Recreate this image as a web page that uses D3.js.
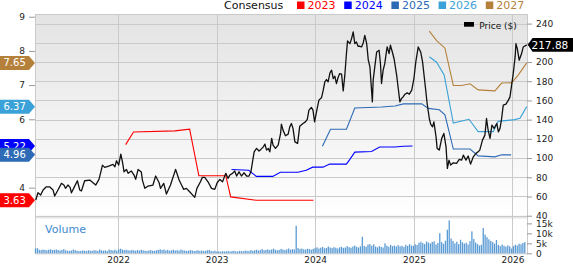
<!DOCTYPE html>
<html>
<head>
<meta charset="utf-8">
<script src="https://cdn.jsdelivr.net/npm/d3@7"></script>
<style>
  body { margin: 0; background: #fff; }
  svg { display: block; font-family: "DejaVu Sans", sans-serif; }
</style>
</head>
<body>
<svg id="chart" width="573" height="264"></svg>
<script>
// closing price ($)
const price = [
  ["2021-03-02",56.3],["2021-03-10",63.9],["2021-03-20",61.5],["2021-03-29",66.7],["2021-04-10",70.1],["2021-04-22",70.1],
  ["2021-05-05",66.7],["2021-05-11",60.5],["2021-05-23",66.7],["2021-06-05",73.7],["2021-06-14",71.9],["2021-06-20",68.5],
  ["2021-06-29",71.9],["2021-07-07",69.5],["2021-07-12",63.9],["2021-07-22",69.5],["2021-08-03",76.4],["2021-08-12",66.7],
  ["2021-08-18",65.7],["2021-08-30",76.4],["2021-09-18",77.1],["2021-09-30",74.3],["2021-10-10",71.9],["2021-10-22",77.8],
  ["2021-10-29",85.7],["2021-11-04",92.7],["2021-11-12",90.3],["2021-11-27",91.7],["2021-12-13",93.4],["2021-12-20",90.9],
  ["2021-12-26",97.2],["2022-01-03",92.7],["2022-01-11",104.1],["2022-01-17",96.1],["2022-01-23",85.7],["2022-02-01",88.2],
  ["2022-02-07",84.1],["2022-02-19",86.5],["2022-03-01",82.3],["2022-03-07",77.8],["2022-03-16",88.2],["2022-03-28",85.4],
  ["2022-04-01",77.1],["2022-04-10",68.5],["2022-04-22",70.9],["2022-05-10",71.9],["2022-05-20",81.3],["2022-06-02",74.3],
  ["2022-06-07",68.5],["2022-06-19",73.7],["2022-06-29",62.6],["2022-07-14",71.9],["2022-08-02",88.2],["2022-08-15",77.1],
  ["2022-08-24",71.9],["2022-09-01",67.4],["2022-09-11",68.5],["2022-09-23",64.9],["2022-10-12",59.1],["2022-10-20",68.5],
  ["2022-11-02",75.3],["2022-11-09",79.9],["2022-11-18",79.9],["2022-11-30",75.3],["2022-12-13",68.5],["2022-12-25",67.4],
  ["2023-01-03",74.3],["2023-01-13",77.8],["2023-01-23",75.3],["2023-01-29",79.9],["2023-02-04",84.1],["2023-02-12",78.9],
  ["2023-02-19",82.3],["2023-03-01",84.1],["2023-03-09",86.5],["2023-03-16",81.3],["2023-03-25",85.7],["2023-04-03",81.3],
  ["2023-04-12",84.7],["2023-04-22",81.3],["2023-05-01",81.3],["2023-05-08",85.7],["2023-05-20",106.5],["2023-05-29",110.1],
  ["2023-06-07",107.3],["2023-06-14",109.0],["2023-06-23",111.7],["2023-06-29",114.5],["2023-07-05",108.3],["2023-07-11",110.1],
  ["2023-07-17",106.5],["2023-07-24",120.5],["2023-07-29",113.5],["2023-08-07",110.1],["2023-08-17",113.5],["2023-08-26",125.7],
  ["2023-08-29",135.3],["2023-09-04",129.1],["2023-09-13",123.2],["2023-09-23",124.9],["2023-09-29",132.5],["2023-10-05",136.0],
  ["2023-10-11",130.9],["2023-10-18",116.9],["2023-10-28",115.3],["2023-11-05",133.2],["2023-11-17",136.0],["2023-11-26",137.7],
  ["2023-12-03",140.2],["2023-12-09",149.9],["2023-12-18",152.7],["2023-12-24",149.9],["2023-12-30",137.7],["2024-01-06",148.1],
  ["2024-01-15",160.3],["2024-01-25",163.1],["2024-01-31",170.7],["2024-02-06",179.3],["2024-02-12",181.8],["2024-02-18",179.3],
  ["2024-02-25",188.7],["2024-03-02",191.5],["2024-03-08",182.8],["2024-03-14",185.2],["2024-03-20",177.6],["2024-03-26",183.9],
  ["2024-04-01",188.0],["2024-04-08",187.3],["2024-04-14",169.9],["2024-04-20",186.3],["2024-04-26",208.8],["2024-04-30",221.9],
  ["2024-05-09",219.2],["2024-05-15",224.4],["2024-05-21",231.3],["2024-05-27",219.2],["2024-06-02",220.9],["2024-06-08",216.4],
  ["2024-06-14",216.4],["2024-06-21",215.7],["2024-06-27",219.8],["2024-07-03",227.8],["2024-07-10",219.2],["2024-07-16",201.9],
  ["2024-07-22",194.9],["2024-07-31",158.5],["2024-08-03",181.1],["2024-08-09",194.9],["2024-08-16",210.5],["2024-08-25",212.2],
  ["2024-08-30",198.4],["2024-09-03",177.6],["2024-09-09",191.5],["2024-09-15",198.4],["2024-09-21",210.5],["2024-09-24",215.7],
  ["2024-10-01",208.8],["2024-10-06",217.5],["2024-10-14",209.4],["2024-10-20",202.6],["2024-10-29",186.3],["2024-11-04",172.4],
  ["2024-11-10",158.5],["2024-11-16",162.0],["2024-11-22",163.7],["2024-11-29",166.5],["2024-12-07",167.9],["2024-12-15",166.5],
  ["2024-12-24",170.7],["2025-01-01",182.8],["2025-01-08",200.1],["2025-01-17",215.7],["2025-01-26",210.5],["2025-02-02",200.1],
  ["2025-02-11",177.6],["2025-02-19",156.8],["2025-02-27",141.2],["2025-03-04",135.3],["2025-03-11",132.5],["2025-03-16",137.7],
  ["2025-03-24",122.1],["2025-03-28",110.1],["2025-04-05",108.3],["2025-04-14",120.5],["2025-04-22",125.7],["2025-04-30",111.7],
  ["2025-05-05",89.3],["2025-05-11",97.9],["2025-05-17",92.7],["2025-05-27",95.1],["2025-06-08",94.5],["2025-06-18",98.6],
  ["2025-06-27",97.9],["2025-07-03",103.1],["2025-07-13",97.9],["2025-07-21",102.1],["2025-07-30",93.7],["2025-08-09",101.3],
  ["2025-08-19",104.9],["2025-08-27",106.5],["2025-09-02",108.3],["2025-09-12",118.7],["2025-09-21",123.9],["2025-09-27",141.2],
  ["2025-10-03",129.1],["2025-10-10",120.5],["2025-10-17",134.3],["2025-10-25",130.9],["2025-11-04",136.0],["2025-11-10",127.3],
  ["2025-11-16",130.9],["2025-11-22",141.2],["2025-11-28",155.1],["2025-12-08",156.1],["2025-12-17",160.3],["2025-12-23",163.7],
  ["2025-12-29",175.9],["2026-01-04",188.0],["2026-01-11",205.3],["2026-01-14",219.2],["2026-01-19",214.0],["2026-01-26",201.9],
  ["2026-02-04",208.8],["2026-02-10",215.7],["2026-02-23",217.88]
];

// consensus EPS estimates per fiscal year
const eps2023 = [["2022-01-29",5.26],["2022-02-27",5.63],["2022-07-30",5.66],["2022-09-23",5.71],["2022-10-27",4.35],
  ["2023-02-04",4.35],["2023-02-22",3.73],["2023-05-28",3.63],["2023-12-26",3.63]];
const eps2024 = [["2023-02-25",4.53],["2023-04-30",4.51],["2023-05-28",4.33],["2023-07-28",4.33],["2023-08-25",4.45],
  ["2023-10-29",4.45],["2023-11-29",4.51],["2023-12-23",4.6],["2024-01-30",4.6],["2024-02-24",4.69],["2024-04-26",4.69],
  ["2024-05-08",4.82],["2024-05-27",5.04],["2024-07-28",5.06],["2024-08-27",5.19],["2024-10-23",5.19],["2024-11-23",5.21],
  ["2024-12-27",5.22]];
const eps2025 = [["2024-01-28",5.21],["2024-02-27",5.71],["2024-04-26",5.71],["2024-05-27",6.33],["2024-09-03",6.36],
  ["2024-10-23",6.39],["2024-11-23",6.45],["2025-01-30",6.45],["2025-02-23",6.32],["2025-04-05",6.28],["2025-04-26",6.13],
  ["2025-05-27",5.13],["2025-07-28",5.13],["2025-08-27",4.93],["2025-10-28",4.9],["2025-11-22",4.96],["2025-12-27",4.96]];
const eps2026 = [["2025-02-27",7.83],["2025-03-26",7.67],["2025-04-23",7.3],["2025-05-27",5.89],["2025-07-24",6.0],
  ["2025-08-27",5.64],["2025-10-22",5.64],["2025-11-09",5.94],["2026-01-10",5.99],["2026-01-29",6.03],["2026-02-23",6.37]];
const eps2027 = [["2025-02-27",8.58],["2025-03-26",8.3],["2025-04-26",8.08],["2025-05-27",6.99],["2025-06-27",6.99],
  ["2025-07-28",7.04],["2025-08-27",6.86],["2025-10-28",6.83],["2025-11-22",7.06],["2025-12-30",7.07],["2026-01-23",7.3],
  ["2026-02-23",7.65]];

// weekly volume in thousands, first week starting volStart
const volStart = "2021-03-01";
const volume = [
  2.4,2.6,1.8,1.6,1.9,1.7,1.5,1.8,2.0,1.6,1.7,1.9,1.6,1.4,1.7,2.1,1.5,1.3,1.2,1.4,1.9,1.6,1.3,1.1,1.2,1.4,1.3,1.1,1.5,1.3,
  1.2,1.6,1.4,1.2,1.9,1.5,1.3,1.4,1.2,1.9,1.6,1.4,1.8,1.3,
  2.0,2.3,1.9,1.6,1.8,1.5,1.4,1.7,1.5,1.3,1.6,1.4,1.8,1.5,1.3,1.2,1.4,1.6,1.3,1.2,1.5,1.7,2.0,1.6,1.9,1.4,1.7,1.3,1.5,1.8,
  1.4,1.6,1.3,1.9,1.5,1.4,1.2,1.3,1.6,1.4,1.1,1.3,1.5,1.2,1.4,1.1,1.3,1.5,1.7,1.2,1.0,1.3,
  0.9,1.0,0.8,1.1,0.9,1.0,1.2,0.9,1.1,1.3,1.0,0.9,1.2,1.1,1.0,1.4,1.2,1.1,1.6,1.3,1.5,1.8,1.4,1.6,2.1,1.5,1.7,2.0,1.6,1.9,
  2.3,1.8,1.5,1.7,2.2,1.9,1.6,2.0,2.4,1.8,2.1,1.9,13.8,2.6,2.2,2.4,2.0,1.9,2.3,2.1,1.8,2.2,
  2.6,3.0,2.4,2.8,3.2,2.5,2.7,3.4,2.9,2.6,3.1,2.8,2.4,3.0,3.3,2.7,2.9,3.6,3.1,2.8,3.4,3.9,3.2,2.9,3.5,8.3,3.7,3.3,4.4,4.6,
  3.8,4.5,3.4,3.0,3.6,3.2,2.9,5.0,3.8,3.3,4.2,3.6,3.9,3.4,4.1,3.5,3.8,3.2,4.3,3.7,4.6,3.9,
  3.8,4.5,4.2,5.3,5.8,5.1,4.6,5.9,5.4,4.9,5.7,6.0,4.4,5.2,10.1,5.6,4.8,6.3,11.8,16.5,7.4,6.2,5.0,5.8,4.6,6.8,5.5,4.9,5.3,4.4,
  6.1,11.0,7.2,5.4,4.6,3.9,4.3,12.7,9.4,8.1,7.0,6.2,5.6,4.8,6.7,4.2,3.6,4.4,3.8,3.3,4.0,3.5,
  2.4,3.6,4.3,3.9,4.8,4.5,5.2,5.6
];

const priceTicks = [40, 60, 80, 100, 120, 140, 160, 180, 200, 220, 240];
const epsTicks = [4, 5, 6, 7, 8, 9];
const volTicks = [0, 5, 10, 15];
const yearTicks = ["2022-01-01", "2023-01-01", "2024-01-01", "2025-01-01", "2026-01-01"];

const series = [
  {name: "2023", data: eps2023, color: "#ff0000"},
  {name: "2024", data: eps2024, color: "#0000ff"},
  {name: "2025", data: eps2025, color: "#2d6bb6"},
  {name: "2026", data: eps2026, color: "#3aa2d8"},
  {name: "2027", data: eps2027, color: "#b5813a"}
];

const parse = d3.timeParse("%Y-%m-%d");
const svg = d3.select("#chart");
const plotLeft = 35, plotRight = 527, plotTop = 14, priceBottom = 215.7, volTop = 219, volBottom = 253.3;
const grid = "#cacaca";

const x = d3.scaleTime().domain([parse("2021-02-27"), parse("2026-02-24")]).range([plotLeft, plotRight]);
const yPrice = d3.scaleLinear().domain([40, 250]).range([priceBottom, plotTop]);
const yEps = d3.scaleLinear().domain([3.18, 9.08]).range([priceBottom, plotTop]);
const yVol = d3.scaleLinear().domain([0, 17.2]).range([volBottom, volTop]);

const lastPrice = price[price.length - 1][1];
const lastEps = series.map(s => s.data[s.data.length - 1][1]);

// tick labels that sit under a value tag are not shown
const coveredBy = (ys, y) => ys.some(t => Math.abs(t - y) < 7);

// background
const grad = svg.append("defs").append("linearGradient")
    .attr("id", "bg").attr("x1", 0).attr("y1", 0).attr("x2", 0).attr("y2", 1);
grad.append("stop").attr("offset", "0%").attr("stop-color", "#e3e3e3");
grad.append("stop").attr("offset", "100%").attr("stop-color", "#ffffff");

svg.append("rect").attr("x", plotLeft).attr("y", plotTop)
    .attr("width", plotRight - plotLeft).attr("height", priceBottom - plotTop)
    .attr("fill", "url(#bg)");
svg.append("rect").attr("x", plotLeft).attr("y", priceBottom)
    .attr("width", plotRight - plotLeft).attr("height", volTop - priceBottom - 0.5)
    .attr("fill", "#e6e6e6");

// grid
svg.append("g").selectAll("line")
    .data(priceTicks)
    .enter().append("line")
    .attr("x1", plotLeft).attr("x2", plotRight)
    .attr("y1", d => Math.round(yPrice(d)) + 0.5).attr("y2", d => Math.round(yPrice(d)) + 0.5)
    .attr("stroke", grid);

svg.append("g").selectAll("line")
    .data(yearTicks)
    .enter().append("line")
    .attr("x1", d => Math.round(x(parse(d))) + 0.5).attr("x2", d => Math.round(x(parse(d))) + 0.5)
    .attr("y1", plotTop).attr("y2", volBottom)
    .attr("stroke", grid);

svg.append("rect")
    .attr("x", plotLeft + 0.5).attr("y", plotTop + 0.5)
    .attr("width", plotRight - plotLeft).attr("height", volBottom - plotTop)
    .attr("fill", "none").attr("stroke", grid);

// volume
svg.append("g").selectAll("rect")
    .data(volume)
    .enter().append("rect")
    .attr("x", (d, i) => x(d3.timeWeek.offset(parse(volStart), i)) - 0.7)
    .attr("y", d => yVol(d))
    .attr("width", 1.3)
    .attr("height", d => yVol(0) - yVol(d))
    .attr("fill", "#5b9bd5");

svg.append("text")
    .attr("x", 45).attr("y", 232.7)
    .attr("font-size", 11).attr("fill", "#3d8bcf")
    .text("Volume");

// consensus lines
const epsLine = d3.line()
    .x(d => x(parse(d[0])))
    .y(d => yEps(d[1]));

series.forEach(s => {
  svg.append("path")
      .datum(s.data)
      .attr("d", epsLine)
      .attr("fill", "none")
      .attr("stroke", s.color)
      .attr("stroke-width", 1.1);
});

// price line
svg.append("path")
    .datum(price)
    .attr("d", d3.line().x(d => x(parse(d[0]))).y(d => yPrice(d[1])))
    .attr("fill", "none")
    .attr("stroke", "#111")
    .attr("stroke-width", 1.3)
    .attr("stroke-linejoin", "round");

// axes
const styleAxis = g => {
  g.select(".domain").remove();
  g.selectAll("line").attr("stroke", "#999");
  g.selectAll("text").attr("fill", "#222").attr("font-size", 9)
      .attr("font-family", "DejaVu Sans, sans-serif");
};

svg.append("g")
    .attr("transform", "translate(" + plotRight + ",0)")
    .call(d3.axisRight(yPrice).tickValues(priceTicks).tickSize(5).tickPadding(4)
        .tickFormat(d => coveredBy([yPrice(lastPrice)], yPrice(d)) ? "" : d))
    .call(styleAxis);

svg.append("g")
    .attr("transform", "translate(" + plotRight + ",0)")
    .call(d3.axisRight(yVol).tickValues(volTicks).tickSize(5).tickPadding(4)
        .tickFormat(d => d ? d + "k" : "0"))
    .call(styleAxis);

svg.append("g")
    .attr("transform", "translate(" + plotLeft + ",0)")
    .call(d3.axisLeft(yEps).tickValues(epsTicks).tickSize(6).tickPadding(4)
        .tickFormat(d => coveredBy(lastEps.map(yEps), yEps(d)) ? "" : d))
    .call(styleAxis);

svg.append("g")
    .attr("transform", "translate(0," + volBottom + ")")
    .call(d3.axisBottom(x).tickValues(yearTicks.map(parse)).tickSize(0).tickPadding(3)
        .tickFormat(d3.timeFormat("%Y")))
    .call(styleAxis);

// value tags
series.forEach((s, i) => {
  const v = lastEps[i];
  const y = yEps(v);
  svg.append("path")
      .attr("d", "M0," + (y - 7) + "H29L35," + y + "L29," + (y + 7) + "H0Z")
      .attr("fill", s.color);
  svg.append("text")
      .attr("x", 3.5).attr("y", y + 3.6)
      .attr("font-size", 10).attr("fill", "#fff")
      .text(v.toFixed(2));
});

const py = yPrice(lastPrice);
svg.append("path")
    .attr("d", "M" + (plotRight + 0.7) + "," + py + "L" + (plotRight + 5.5) + "," + (py - 6.8) + "H573V" + (py + 6.8) + "H" + (plotRight + 5.5) + "Z")
    .attr("fill", "#000");
svg.append("text")
    .attr("x", 531.5).attr("y", py + 3.8)
    .attr("font-size", 10.5).attr("fill", "#fff")
    .text(lastPrice.toFixed(2));

// legends
svg.append("text")
    .attr("x", 224).attr("y", 9)
    .attr("font-size", 11).attr("fill", "#111")
    .text("Consensus");

const legend = svg.append("g").selectAll("g")
    .data(series)
    .enter().append("g")
    .attr("transform", (d, i) => "translate(" + (297 + i * 47.2) + ",0)");
legend.append("rect")
    .attr("x", 0).attr("y", 1.5).attr("width", 7.5).attr("height", 7.5)
    .attr("fill", d => d.color);
legend.append("text")
    .attr("x", 10.5).attr("y", 9)
    .attr("font-size", 11).attr("fill", d => d.color)
    .text(d => d.name);

svg.append("rect")
    .attr("x", 464).attr("y", 22).attr("width", 10).attr("height", 4.7)
    .attr("fill", "#000");
svg.append("text")
    .attr("x", 479.3).attr("y", 28.6)
    .attr("font-size", 9).attr("fill", "#111")
    .text("Price ($)");
</script>
</body>
</html>
